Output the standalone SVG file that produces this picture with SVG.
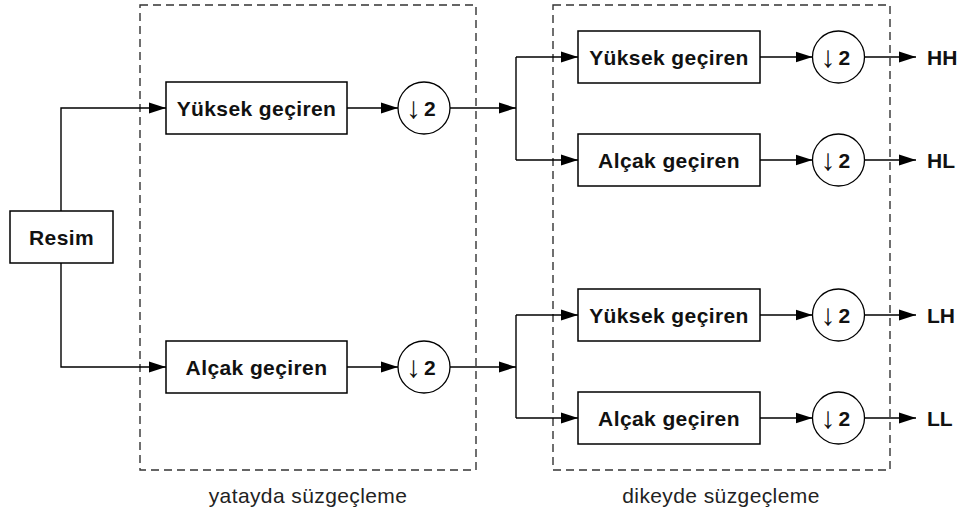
<svg xmlns="http://www.w3.org/2000/svg" width="963" height="515" viewBox="0 0 963 515">
<defs>
<marker id="ah" markerUnits="userSpaceOnUse" markerWidth="18" markerHeight="12" refX="17" refY="6" orient="auto">
<path d="M0,0.5 L17,6 L0,11.5 Z" fill="#000"/>
</marker>
<style>
.box{fill:#fff;stroke:#000;stroke-width:1.5}
.circ{fill:#fff;stroke:#000;stroke-width:1.3}
.grp{fill:none;stroke:#333;stroke-width:1.4;stroke-dasharray:8 5}
.ln{fill:none;stroke:#000;stroke-width:1.4}
.arr{fill:none;stroke:#000;stroke-width:1.4;marker-end:url(#ah)}
.t{font-family:"Liberation Sans",Arial,sans-serif;font-size:21px;font-weight:bold;letter-spacing:0.4px;text-anchor:middle;fill:#111}
.o{font-family:"Liberation Sans",Arial,sans-serif;font-size:21px;font-weight:bold;fill:#111}
.cap{font-family:"Liberation Sans",Arial,sans-serif;font-size:21px;letter-spacing:0.4px;text-anchor:middle;fill:#222}
.ds{font-family:"Liberation Sans",Arial,sans-serif;font-size:21px;font-weight:bold;fill:#111}
.dar{font-family:"Liberation Sans","DejaVu Sans",sans-serif;font-weight:normal;font-size:30px}
</style>
</defs>
<g id="groups">
<rect class="grp" x="140" y="5" width="336" height="465"/>
<rect class="grp" x="553" y="5" width="337" height="465"/>
<text class="cap" x="308" y="503">yatayda süzgeçleme</text>
<text class="cap" x="721" y="503">dikeyde süzgeçleme</text>
</g>
<g id="connectors">
<polyline class="arr" points="61,211 61,108 166,108"/>
<polyline class="arr" points="61,263 61,367 166,367"/>
<line class="arr" x1="347" y1="108" x2="398" y2="108"/>
<line class="arr" x1="347" y1="367" x2="398" y2="367"/>
<line class="arr" x1="450" y1="108" x2="516" y2="108"/>
<line class="arr" x1="450" y1="367" x2="516" y2="367"/>
<line class="ln" x1="516" y1="57" x2="516" y2="160"/>
<line class="ln" x1="516" y1="315" x2="516" y2="418"/>
<line class="arr" x1="516" y1="57" x2="578" y2="57"/>
<line class="arr" x1="516" y1="160" x2="578" y2="160"/>
<line class="arr" x1="516" y1="315" x2="578" y2="315"/>
<line class="arr" x1="516" y1="418" x2="578" y2="418"/>
<line class="arr" x1="760" y1="57" x2="812.5" y2="57"/>
<line class="arr" x1="760" y1="160" x2="812.5" y2="160"/>
<line class="arr" x1="760" y1="315" x2="812.5" y2="315"/>
<line class="arr" x1="760" y1="418" x2="812.5" y2="418"/>
<line class="arr" x1="864.5" y1="57" x2="916" y2="57"/>
<line class="arr" x1="864.5" y1="160" x2="916" y2="160"/>
<line class="arr" x1="864.5" y1="315" x2="916" y2="315"/>
<line class="arr" x1="864.5" y1="418" x2="916" y2="418"/>
</g>
<g id="resim">
<rect class="box" x="10" y="211" width="103" height="52"/>
<text class="t" x="61.5" y="244.5">Resim</text>
</g>
<g id="h-high">
<rect class="box" x="166" y="82" width="181" height="52"/>
<text class="t" x="256.5" y="115.5">Yüksek geçiren</text>
</g>
<g id="h-down-high">
<circle class="circ" cx="424" cy="108" r="26"/>
<text class="ds" y="116"><tspan class="dar" x="406" y="118">↓</tspan><tspan x="424" y="116">2</tspan></text>
</g>
<g id="h-low">
<rect class="box" x="166" y="341" width="181" height="52"/>
<text class="t" x="256.5" y="374.5">Alçak geçiren</text>
</g>
<g id="h-down-low">
<circle class="circ" cx="424" cy="367" r="26"/>
<text class="ds" y="375"><tspan class="dar" x="406" y="377">↓</tspan><tspan x="424" y="375">2</tspan></text>
</g>
<g id="v-hh">
<rect class="box" x="578" y="31" width="182" height="52"/>
<text class="t" x="669" y="64.5">Yüksek geçiren</text>
</g>
<g id="v-hl">
<rect class="box" x="578" y="134" width="182" height="52"/>
<text class="t" x="669" y="167.5">Alçak geçiren</text>
</g>
<g id="v-lh">
<rect class="box" x="578" y="289" width="182" height="52"/>
<text class="t" x="669" y="322.5">Yüksek geçiren</text>
</g>
<g id="v-ll">
<rect class="box" x="578" y="392" width="182" height="52"/>
<text class="t" x="669" y="425.5">Alçak geçiren</text>
</g>
<g id="d-hh">
<circle class="circ" cx="838.5" cy="57" r="26"/>
<text class="ds" y="65"><tspan class="dar" x="820.5" y="67">↓</tspan><tspan x="838.5" y="65">2</tspan></text>
</g>
<g id="d-hl">
<circle class="circ" cx="838.5" cy="160" r="26"/>
<text class="ds" y="168"><tspan class="dar" x="820.5" y="170">↓</tspan><tspan x="838.5" y="168">2</tspan></text>
</g>
<g id="d-lh">
<circle class="circ" cx="838.5" cy="315" r="26"/>
<text class="ds" y="323"><tspan class="dar" x="820.5" y="325">↓</tspan><tspan x="838.5" y="323">2</tspan></text>
</g>
<g id="d-ll">
<circle class="circ" cx="838.5" cy="418" r="26"/>
<text class="ds" y="426"><tspan class="dar" x="820.5" y="428">↓</tspan><tspan x="838.5" y="426">2</tspan></text>
</g>
<g id="outputs">
<text class="o" x="927" y="64.5">HH</text>
<text class="o" x="927" y="167.5">HL</text>
<text class="o" x="927" y="322.5">LH</text>
<text class="o" x="927" y="425.5">LL</text>
</g>
</svg>
